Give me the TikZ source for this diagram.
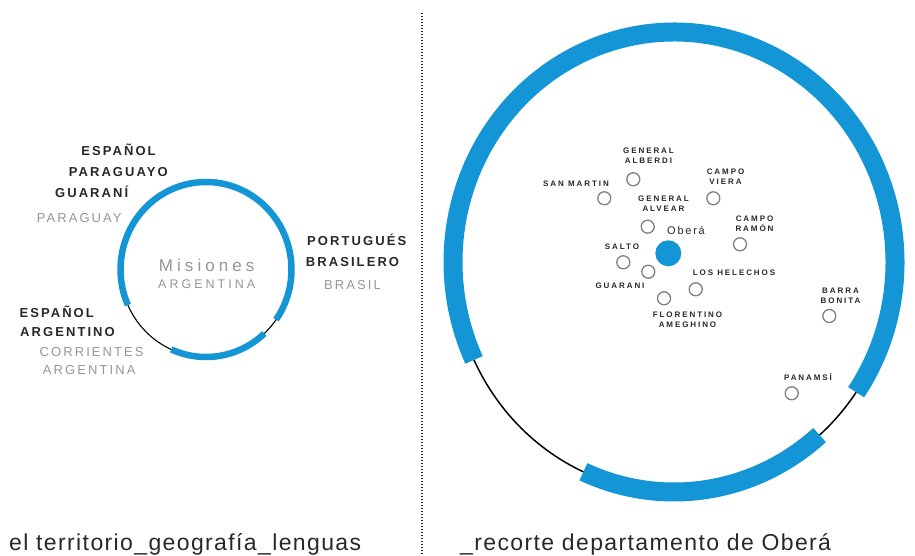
\documentclass[tikz,border=0pt]{standalone}
\usepackage{fontspec}
\setmainfont{Liberation Sans}
\newfontfamily\capsfont[LetterSpace=16]{Liberation Sans}
\newfontfamily\widefont[LetterSpace=24]{Liberation Sans}
\newfontfamily\captionfont[LetterSpace=6]{Liberation Sans}
\usetikzlibrary{positioning}
\definecolor{misionesblue}{RGB}{20,150,214}
\definecolor{inkgray}{RGB}{40,40,40}
\definecolor{softgray}{RGB}{150,150,150}
\tikzset{x=1pt, y=1pt,
lang/.style={font=\capsfont\bfseries\fontsize{13}{13}\selectfont, text=inkgray, inner sep=0pt}, % language names
place/.style={font=\capsfont\fontsize{13}{13}\selectfont, text=softgray, inner sep=0pt}, % country names
town/.style={circle, draw=gray, line width=1.3pt, minimum size=13pt, inner sep=0pt}, % localities
townlabel/.style={font=\widefont\bfseries\fontsize{8}{10}\selectfont, text=inkgray, align=center, inner sep=0pt},
caption/.style={font=\captionfont\fontsize{23}{23}\selectfont, text=inkgray, inner sep=0pt, anchor=base west},
bluering/.style={misionesblue, line width=#1},
thinring/.style={black, line width=#1},
}

\begin{document}
\begin{tikzpicture}
  \useasboundingbox (0,0) rectangle (915,556);

  % divider
  \coordinate (divtop) at (422,543);
  \coordinate (divbot) at (422,0);
  \draw[black!85, line width=1.6pt, dash pattern=on 1.5pt off 1.5pt] (divtop) -- (divbot);

  % left: Misiones and its borders
  \coordinate (smallc) at (206,286.5);
  \draw[thinring=1.1pt] (smallc) ellipse [x radius=85.5, y radius=87.5];
  \draw[bluering=6.5pt] (smallc) ++(-35:85.5 and 87.5) arc [start angle=-35, end angle=204, x radius=85.5, y radius=87.5];
  \draw[bluering=6.5pt] (smallc) ++(246:85.5 and 87.5) arc [start angle=246, end angle=313, x radius=85.5, y radius=87.5];

  \node[place, font=\widefont\fontsize{17}{17}\selectfont] (misiones) at (206.7,291) {Misiones};
  \node[place, font=\widefont\fontsize{12.5}{12.5}\selectfont] (argmid) at (206.7,272) {ARGENTINA};

  \node[lang] (esppar) at (118.5,406) {ESPAÑOL};
  \node[lang] (paraguayo) at (118.3,384.3) {PARAGUAYO};
  \node[lang] (guaranilang) at (91.7,364.3) {GUARANÍ};
  \node[place] (paraguay) at (79.2,337.7) {PARAGUAY};

  \node[lang] (portugues) at (356.7,316) {PORTUGUÉS};
  \node[lang] (brasilero) at (352.5,294.3) {BRASILERO};
  \node[place] (brasil) at (352.5,271) {BRASIL};

  \node[lang] (esparg) at (56.7,244.3) {ESPAÑOL};
  \node[lang] (argentino) at (67.5,224.3) {ARGENTINO};
  \node[place] (corrientes) at (91.7,204.3) {CORRIENTES};
  \node[place] (argentina) at (89.2,186) {ARGENTINA};

  % right: departamento de Oberá
  \coordinate (bigc) at (674,294);
  \draw[thinring=1.5pt] (bigc) ellipse [x radius=221, y radius=230];
  \draw[bluering=19pt] (bigc) ++(-34.5:221 and 230) arc [start angle=-34.5, end angle=205.2, x radius=221, y radius=230];
  \draw[bluering=19pt] (bigc) ++(245.8:221 and 230) arc [start angle=245.8, end angle=311.2, x radius=221, y radius=230];

  \node[town] (alberdi) at (633.3,376.7) {};
  \node[town] (sanmartin) at (604.3,357.7) {};
  \node[town] (viera) at (713.3,357.7) {};
  \node[town] (alvear) at (647.7,329.3) {};
  \node[town] (ramon) at (740,311.7) {};
  \node[town] (salto) at (623.3,293.7) {};
  \node[town] (guarani) at (648.3,284.3) {};
  \node[town] (helechos) at (695.7,266.7) {};
  \node[town] (florentino) at (664,257.7) {};
  \node[town] (barra) at (829.3,240) {};
  \node[town] (panamsi) at (791.7,162.7) {};
  \node[circle, fill=misionesblue, minimum size=26pt, inner sep=0pt] (obera) at (668.3,302.7) {};

  \node[townlabel] (alberdilabel) at (648.5,400) {GENERAL\\ALBERDI};
  \node[townlabel] (sanmartinlabel) at (576,372) {SAN MARTIN};
  \node[townlabel] (vieralabel) at (725.5,379) {CAMPO\\VIERA};
  \node[townlabel] (alvearlabel) at (663.5,352.5) {GENERAL\\ALVEAR};
  \node[townlabel] (ramonlabel) at (754.5,332) {CAMPO\\RAMÓN};
  \node[townlabel] (saltolabel) at (622,309) {SALTO};
  \node[townlabel] (guaranilabel) at (620,270) {GUARANI};
  \node[townlabel] (helechoslabel) at (734,283) {LOS HELECHOS};
  \node[townlabel] (florentinolabel) at (687.5,236.5) {FLORENTINO\\AMEGHINO};
  \node[townlabel] (barralabel) at (840.5,260) {BARRA\\BONITA};
  \node[townlabel] (panamsilabel) at (808,179) {PANAMSÍ};
  \node[font=\capsfont\fontsize{11}{11}\selectfont, text=inkgray, inner sep=0pt] (oberalabel) at (686,325) {Oberá};

  % captions
  \node[caption] (lefttitle) at (9,5) {el territorio\_geografía\_lenguas};
  \node[caption] (righttitle) at (460,5) {\_recorte departamento de Oberá};
\end{tikzpicture}
\end{document}
